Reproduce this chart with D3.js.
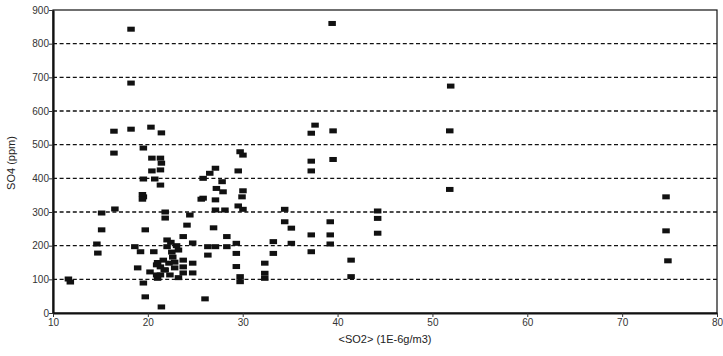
<!DOCTYPE html>
<html><head><meta charset="utf-8">
<script src="https://cdn.jsdelivr.net/npm/d3@7"></script>
<style>body{margin:0;background:#fff}svg{display:block}text{font-family:"Liberation Sans",Arial,sans-serif}</style>
</head><body><svg id="c" width="723" height="356"></svg>
<script>
const so2 = [11.6,11.8,15.1,15.1,14.6,14.7,16.4,16.4,16.5,18.2,18.2,18.2,20.3,21.4,19.5,20.4,21.3,21.4,20.4,21.3,
19.5,20.7,21.3,19.5,21.8,21.8,24.4,24.1,19.7,23.7,22.0,18.6,19.2,20.6,22.0,24.7,22.6,21.6,21.3,20.2,
18.9,20.9,23.7,23.7,23.7,24.7,24.7,19.5,19.7,21.4,25.6,26.0,29.7,30.0,27.1,29.5,26.5,25.8,27.8,27.2,
27.9,30.0,25.8,27.1,29.9,27.1,28.1,29.5,30.0,26.9,28.3,26.3,26.3,27.1,28.3,29.3,29.3,29.3,29.7,29.7,
33.2,33.2,32.3,32.3,32.3,37.6,37.2,39.5,37.2,39.5,37.2,34.4,34.4,35.1,35.1,37.2,37.2,39.2,39.2,39.2,
39.4,51.8,51.9,51.8,44.2,44.2,44.2,41.4,41.4,74.6,74.6,74.8,20.9,21.8,22.3,21.3,22.8,23.2,22.5,
21.0,21.7,22.8,23.2,21.0,22.2,23.0,22.4,19.4,19.4];
const so4 = [101,92,297,247,205,178,540,475,309,546,843,683,552,535,490,460,460,445,422,425,
398,398,380,345,300,282,291,261,247,227,217,197,182,182,197,208,166,157,137,122,
134,113,157,137,119,148,119,89,48,18,338,42,479,469,430,422,415,400,390,370,
360,363,341,336,345,306,306,318,308,253,227,197,172,197,197,207,177,138,108,93,
212,177,148,118,103,558,534,541,451,456,422,308,271,252,207,232,182,271,232,205,
860,541,674,367,281,237,303,157,108,345,244,155,143,128,113,113,151,187,181,
150,128,134,105,103,148,200,210,352,338];
const xTicks = [10,20,30,40,50,60,70,80];
const yTicks = [0,100,200,300,400,500,600,700,800,900];
const gridVals = [100,200,300,400,500,600,700,800];
const xLabel = "<SO2> (1E-6g/m3)";
const yLabel = "SO4 (ppm)";

const svg = d3.select("#c");
const L=53,R=717,T=10,B=313;
const x = d3.scaleLinear().domain([10,80]).range([L,R]);
const y = d3.scaleLinear().domain([0,900]).range([B,T]);

svg.append("g").selectAll("line").data(gridVals).join("line")
  .attr("x1",L).attr("x2",R).attr("y1",d=>y(d)).attr("y2",d=>y(d))
  .attr("stroke","#111").attr("stroke-width",1.4).attr("stroke-dasharray","4,2.6");

svg.append("rect").attr("x",L).attr("y",T).attr("width",R-L).attr("height",B-T)
  .attr("fill","none").attr("stroke","#111").attr("stroke-width",1.2);

const xa = svg.append("g").attr("transform",`translate(0,${B})`)
  .call(d3.axisBottom(x).tickValues(xTicks).tickSize(4).tickSizeOuter(0));
const ya = svg.append("g").attr("transform",`translate(${L},0)`)
  .call(d3.axisLeft(y).tickValues(yTicks).tickSize(4).tickSizeOuter(0));
[xa,ya].forEach(a=>{
  a.select(".domain").attr("stroke","#111").attr("stroke-width",2.2);
  a.selectAll(".tick line").attr("stroke","#333");
  a.selectAll(".tick text").attr("fill","#333").style("font-size","10px");
});
ya.selectAll(".tick text").attr("x",-4);
xa.selectAll(".tick text").attr("y",6);

svg.append("g").selectAll("rect").data(so2.map((d,i)=>[d,so4[i]])).join("rect")
  .attr("x",d=>x(d[0])-3.5).attr("y",d=>y(d[1])-2.5).attr("width",7.5).attr("height",5)
  .attr("fill","#111");

svg.append("text").attr("x",385).attr("y",343).attr("text-anchor","middle")
  .style("font-size","11px").attr("fill","#222").text(xLabel);
svg.append("text").attr("transform","translate(15,163) rotate(-90)").attr("text-anchor","middle")
  .style("font-size","11px").attr("fill","#222").text(yLabel);
</script></body></html>
